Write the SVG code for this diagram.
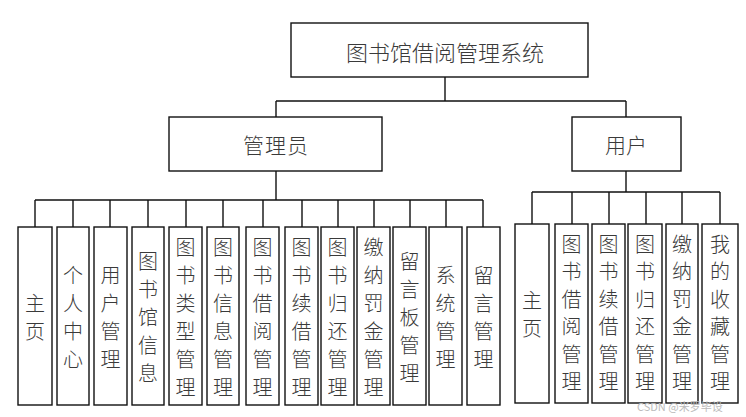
<svg xmlns="http://www.w3.org/2000/svg" width="746" height="417" viewBox="0 0 746 417">
<style>
.box{fill:#fff;stroke:#111;stroke-width:1.4}
.ln{fill:none;stroke:#111;stroke-width:1.4}
.t{font-family:"Noto Sans CJK SC","Noto Sans CJK JP",sans-serif;font-weight:300;fill:#3a3a3a;text-anchor:middle;dominant-baseline:central}
.v{font-size:20px}
.h{font-size:21px}
.wm{font-family:"Noto Sans CJK SC",sans-serif;font-size:11px;fill:#bbb}
</style>
<rect width="746" height="417" fill="#fff"/>
<g id="connectors">
<path class="ln" d="M445 77V101M276 101H626M276 101V117M626 101V117"/>
<path class="ln" d="M276 171V200M35 200H483M35 200V227M73 200V227M110 200V227M148 200V227M186 200V227M223 200V227M263 200V227M302 200V227M338 200V227M374 200V227M410 200V227M446 200V227M483 200V227"/>
<path class="ln" d="M626 171V192M532 192H720M532 192V224M572 192V224M609 192V224M646 192V224M682 192V224M720 192V224"/>
</g>
<g id="root"><rect class="box" x="291" y="23" width="297" height="54"/><text class="t" x="445" y="51" font-size="22">图书馆借阅管理系统</text></g>
<g id="admin"><rect class="box" x="169" y="117" width="213" height="54"/><text class="t h" x="276" y="144" letter-spacing="1">管理员</text></g>
<g id="user"><rect class="box" x="572" y="117" width="109" height="54"/><text class="t h" x="626" y="144">用户</text></g>

<g id="a1"><rect class="box" x="18" y="227" width="34" height="178"/><text class="t v"><tspan x="35" y="302">主</tspan><tspan x="35" dy="28">页</tspan></text></g>
<g id="a2"><rect class="box" x="57" y="227" width="32" height="178"/><text class="t v"><tspan x="73" y="274">个</tspan><tspan x="73" dy="28">人</tspan><tspan x="73" dy="28">中</tspan><tspan x="73" dy="28">心</tspan></text></g>
<g id="a3"><rect class="box" x="94" y="227" width="33" height="178"/><text class="t v"><tspan x="110.5" y="274">用</tspan><tspan x="110.5" dy="28">户</tspan><tspan x="110.5" dy="28">管</tspan><tspan x="110.5" dy="28">理</tspan></text></g>
<g id="a4"><rect class="box" x="132" y="227" width="32" height="178"/><text class="t v"><tspan x="148" y="260">图</tspan><tspan x="148" dy="28">书</tspan><tspan x="148" dy="28">馆</tspan><tspan x="148" dy="28">信</tspan><tspan x="148" dy="28">息</tspan></text></g>
<g id="a5"><rect class="box" x="169" y="227" width="33" height="178"/><text class="t v"><tspan x="185.5" y="246">图</tspan><tspan x="185.5" dy="28">书</tspan><tspan x="185.5" dy="28">类</tspan><tspan x="185.5" dy="28">型</tspan><tspan x="185.5" dy="28">管</tspan><tspan x="185.5" dy="28">理</tspan></text></g>
<g id="a6"><rect class="box" x="207" y="227" width="32" height="178"/><text class="t v"><tspan x="223" y="246">图</tspan><tspan x="223" dy="28">书</tspan><tspan x="223" dy="28">信</tspan><tspan x="223" dy="28">息</tspan><tspan x="223" dy="28">管</tspan><tspan x="223" dy="28">理</tspan></text></g>
<g id="a7"><rect class="box" x="246" y="227" width="33" height="178"/><text class="t v"><tspan x="262.5" y="246">图</tspan><tspan x="262.5" dy="28">书</tspan><tspan x="262.5" dy="28">借</tspan><tspan x="262.5" dy="28">阅</tspan><tspan x="262.5" dy="28">管</tspan><tspan x="262.5" dy="28">理</tspan></text></g>
<g id="a8"><rect class="box" x="285" y="227" width="33" height="178"/><text class="t v"><tspan x="301.5" y="246">图</tspan><tspan x="301.5" dy="28">书</tspan><tspan x="301.5" dy="28">续</tspan><tspan x="301.5" dy="28">借</tspan><tspan x="301.5" dy="28">管</tspan><tspan x="301.5" dy="28">理</tspan></text></g>
<g id="a9"><rect class="box" x="321" y="227" width="33" height="178"/><text class="t v"><tspan x="337.5" y="246">图</tspan><tspan x="337.5" dy="28">书</tspan><tspan x="337.5" dy="28">归</tspan><tspan x="337.5" dy="28">还</tspan><tspan x="337.5" dy="28">管</tspan><tspan x="337.5" dy="28">理</tspan></text></g>
<g id="a10"><rect class="box" x="357" y="227" width="33" height="178"/><text class="t v"><tspan x="373.5" y="246">缴</tspan><tspan x="373.5" dy="28">纳</tspan><tspan x="373.5" dy="28">罚</tspan><tspan x="373.5" dy="28">金</tspan><tspan x="373.5" dy="28">管</tspan><tspan x="373.5" dy="28">理</tspan></text></g>
<g id="a11"><rect class="box" x="393" y="227" width="33" height="178"/><text class="t v"><tspan x="409.5" y="260">留</tspan><tspan x="409.5" dy="28">言</tspan><tspan x="409.5" dy="28">板</tspan><tspan x="409.5" dy="28">管</tspan><tspan x="409.5" dy="28">理</tspan></text></g>
<g id="a12"><rect class="box" x="429" y="227" width="33" height="178"/><text class="t v"><tspan x="445.5" y="274">系</tspan><tspan x="445.5" dy="28">统</tspan><tspan x="445.5" dy="28">管</tspan><tspan x="445.5" dy="28">理</tspan></text></g>
<g id="a13"><rect class="box" x="467" y="227" width="33" height="178"/><text class="t v"><tspan x="483.5" y="274">留</tspan><tspan x="483.5" dy="28">言</tspan><tspan x="483.5" dy="28">管</tspan><tspan x="483.5" dy="28">理</tspan></text></g>

<g id="u1"><rect class="box" x="515" y="224" width="34" height="179"/><text class="t v"><tspan x="532" y="299">主</tspan><tspan x="532" dy="28">页</tspan></text></g>
<g id="u2"><rect class="box" x="555" y="224" width="33" height="179"/><text class="t v"><tspan x="571.5" y="243">图</tspan><tspan x="571.5" dy="27.4">书</tspan><tspan x="571.5" dy="27.4">借</tspan><tspan x="571.5" dy="27.4">阅</tspan><tspan x="571.5" dy="27.4">管</tspan><tspan x="571.5" dy="27.4">理</tspan></text></g>
<g id="u3"><rect class="box" x="592" y="224" width="33" height="179"/><text class="t v"><tspan x="608.5" y="243">图</tspan><tspan x="608.5" dy="27.4">书</tspan><tspan x="608.5" dy="27.4">续</tspan><tspan x="608.5" dy="27.4">借</tspan><tspan x="608.5" dy="27.4">管</tspan><tspan x="608.5" dy="27.4">理</tspan></text></g>
<g id="u4"><rect class="box" x="628" y="224" width="34" height="179"/><text class="t v"><tspan x="645" y="243">图</tspan><tspan x="645" dy="27.4">书</tspan><tspan x="645" dy="27.4">归</tspan><tspan x="645" dy="27.4">还</tspan><tspan x="645" dy="27.4">管</tspan><tspan x="645" dy="27.4">理</tspan></text></g>
<g id="u5"><rect class="box" x="666" y="224" width="32" height="179"/><text class="t v"><tspan x="682" y="243">缴</tspan><tspan x="682" dy="27.4">纳</tspan><tspan x="682" dy="27.4">罚</tspan><tspan x="682" dy="27.4">金</tspan><tspan x="682" dy="27.4">管</tspan><tspan x="682" dy="27.4">理</tspan></text></g>
<g id="u6"><rect class="box" x="702" y="224" width="36" height="179"/><text class="t v"><tspan x="720" y="243">我</tspan><tspan x="720" dy="27.4">的</tspan><tspan x="720" dy="27.4">收</tspan><tspan x="720" dy="27.4">藏</tspan><tspan x="720" dy="27.4">管</tspan><tspan x="720" dy="27.4">理</tspan></text></g>
<text class="wm" x="637" y="411">CSDN @米罗毕设</text>
</svg>
